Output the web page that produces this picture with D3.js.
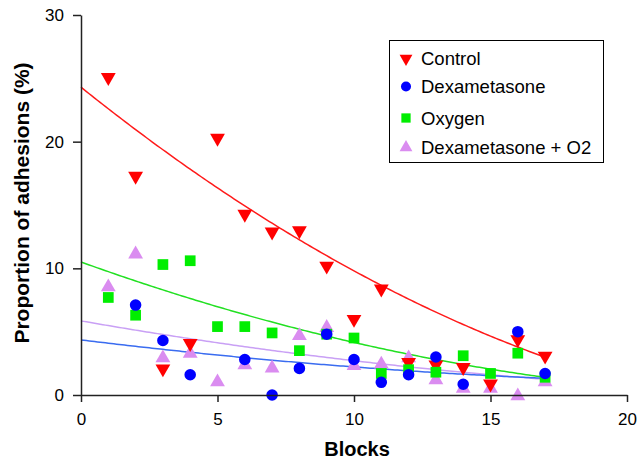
<!DOCTYPE html>
<html>
<head>
<meta charset="utf-8">
<script src="https://cdn.jsdelivr.net/npm/d3@7"></script>
<style>
  body { margin: 0; background: #fff; }
  text { font-family: "Liberation Sans", Arial, sans-serif; }
</style>
</head>
<body>
<svg width="638" height="459"></svg>
<script>
const blocks = [1, 2, 3, 4, 5, 6, 7, 8, 9, 10, 11, 12, 13, 14, 15, 16, 17];

const control = [25, 17.2, 2, 4, 20.2, 14.2, 12.8, 12.9, 10.1, 5.9, 8.3, 2.5, 2.3, 2.1, 0.8, 4.3, 3.0];
const dexa = [null, 7.1, 4.3, 1.6, null, 2.8, 0, 2.1, 4.8, 2.8, 1.0, 1.6, 3.0, 0.85, null, 5.0, 1.7];
const oxygen = [7.7, 6.3, 10.3, 10.6, 5.4, 5.4, 4.9, 3.5, 4.8, 4.5, 1.7, 2.0, 1.8, 3.1, 1.7, 3.3, 1.4];
const dexaO2 = [8.6, 11.2, 3.0, 3.35, 1.1, 2.45, 2.2, 4.75, 5.4, 2.4, 2.5, 3.0, 1.27, 0.6, 0.6, 0, 1.1];

// second order polynomial fits (a + b*x + c*x^2)
const controlFit = [24.3, -1.73, 0.028];
const dexaFit = [4.35, -0.264, 0.00504];
const oxygenFit = [10.5, -0.777, 0.0142];
const dexaO2Fit = [5.85, -0.3763, 0.00619];

const xTicks = [0, 5, 10, 15, 20];
const yTicks = [0, 10, 20, 30];

const series = [
  { name: "Dexametasone + O2", values: dexaO2, fit: dexaO2Fit, color: "#da8cf0", line: "#c9a0f5", symbol: d3.symbolTriangle, rot: 0, size: 95 },
  { name: "Control", values: control, fit: controlFit, color: "#ff0000", line: "#ff1a1a", symbol: d3.symbolTriangle, rot: 180, size: 95 },
  { name: "Oxygen", values: oxygen, fit: oxygenFit, color: "#00ee00", line: "#22e022", symbol: d3.symbolSquare, rot: 0, size: 115 },
  { name: "Dexametasone", values: dexa, fit: dexaFit, color: "#0000ff", line: "#3a6cf0", symbol: d3.symbolCircle, rot: 0, size: 105 }
];

const svg = d3.select("svg");

const x = d3.scaleLinear().domain([0, 20]).range([81, 627]);
const y = d3.scaleLinear().domain([0, 30]).range([395, 15]);

// fitted curves
const line = d3.line().x(d => x(d[0])).y(d => y(d[1]));
series.forEach(s => {
  const pts = d3.range(0, 17.001, 0.1).map(t => [t, s.fit[0] + s.fit[1] * t + s.fit[2] * t * t]);
  svg.append("path")
    .datum(pts)
    .attr("fill", "none")
    .attr("stroke", s.line)
    .attr("stroke-width", 1.5)
    .attr("d", line);
});

// points
series.forEach(s => {
  const sym = d3.symbol().type(s.symbol).size(s.size);
  svg.append("g")
    .selectAll("path")
    .data(blocks.map((b, i) => [b, s.values[i]]).filter(d => d[1] !== null))
    .enter().append("path")
    .attr("d", sym)
    .attr("fill", s.color)
    .attr("transform", d => `translate(${x(d[0])},${y(d[1]) + (s.symbol === d3.symbolTriangle ? (s.rot ? -1 : 1) : 0)}) rotate(${s.rot})`);
});

// axes
const xAxis = svg.append("g")
  .attr("transform", `translate(0,${y(0)})`)
  .call(d3.axisBottom(x).tickValues(xTicks).tickSize(7).tickSizeOuter(0));
const yAxis = svg.append("g")
  .attr("transform", `translate(${x(0)},0)`)
  .call(d3.axisLeft(y).tickValues(yTicks).tickSize(8).tickSizeOuter(0));

[xAxis, yAxis].forEach(a => {
  a.select(".domain").attr("stroke", "#222").attr("stroke-width", 1.5);
  a.selectAll(".tick line").attr("stroke", "#222").attr("stroke-width", 1.5);
  a.selectAll(".tick text")
    .attr("fill", "#000")
    .style("font-size", "17px")
    .style("font-family", "Liberation Sans, Arial, sans-serif");
});
xAxis.selectAll(".tick text").attr("dy", "0.71em").attr("y", 18);
yAxis.selectAll(".tick text").attr("x", -17);

svg.append("text")
  .attr("x", 357)
  .attr("y", 456)
  .attr("text-anchor", "middle")
  .style("font-size", "20px")
  .style("font-weight", "bold")
  .text("Blocks");

svg.append("text")
  .attr("transform", `translate(29,203) rotate(-90)`)
  .attr("text-anchor", "middle")
  .style("font-size", "21px")
  .style("font-weight", "bold")
  .text("Proportion of adhesions (%)");

// legend
const legendItems = [series[1], series[3], series[2], series[0]];
const legendY = [58.5, 86.5, 118, 147.5];
const legend = svg.append("g");
legend.append("rect")
  .attr("x", 389.5).attr("y", 40.5)
  .attr("width", 214).attr("height", 122)
  .attr("fill", "#fff")
  .attr("stroke", "#000")
  .attr("stroke-width", 1);
legendItems.forEach((s, i) => {
  legend.append("path")
    .attr("d", d3.symbol().type(s.symbol).size(s.size * 0.75))
    .attr("fill", s.color)
    .attr("transform", `translate(406,${legendY[i]}) rotate(${s.rot})`);
  legend.append("text")
    .attr("x", 421)
    .attr("y", legendY[i])
    .attr("dy", "0.36em")
    .style("font-size", "18.5px")
    .text(s.name);
});
</script>
</body>
</html>
